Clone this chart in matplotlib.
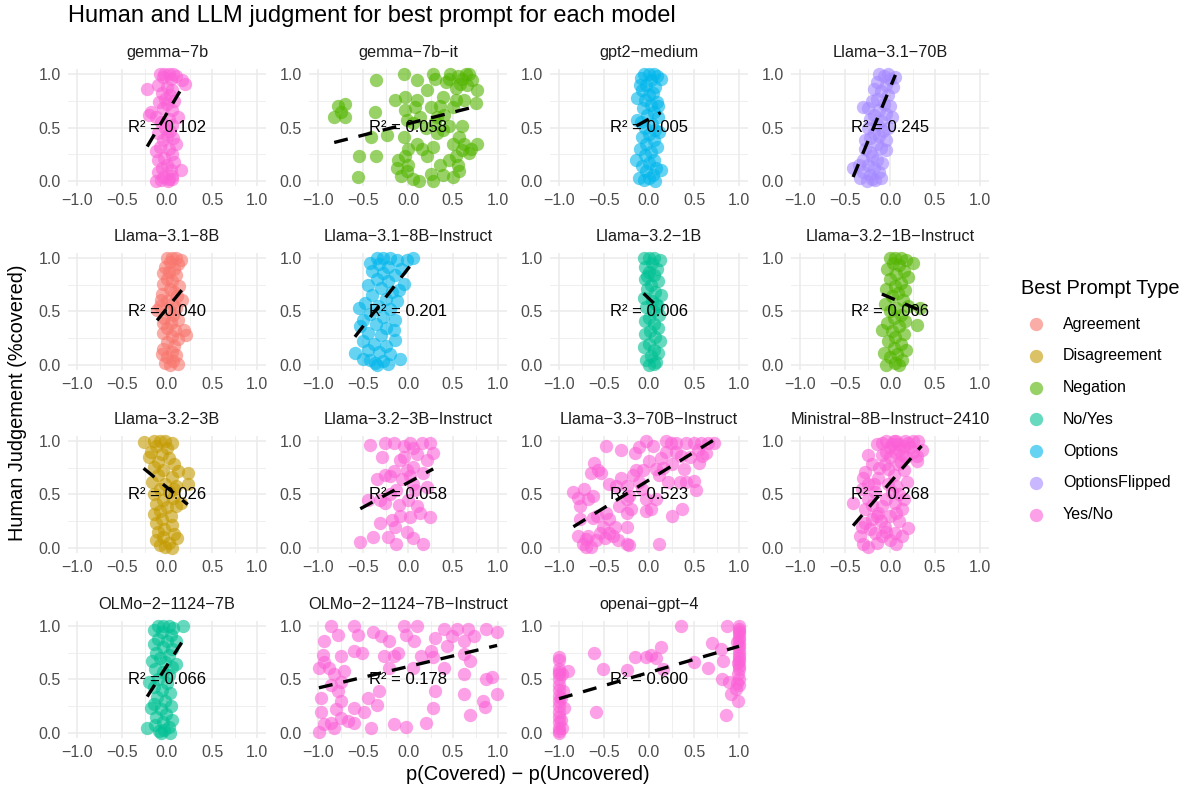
import matplotlib
matplotlib.use("Agg")
import matplotlib.pyplot as plt
from matplotlib.transforms import Bbox, TransformedBbox
from matplotlib.ticker import MultipleLocator

plt.rcParams['font.family'] = ['Liberation Sans', 'DejaVu Sans']

# prompt types and ggplot hue colours
prompt_types = ["Agreement", "Disagreement", "Negation", "No/Yes", "Options", "OptionsFlipped", "Yes/No"]
type_colors = ["#F8766D", "#C49A00", "#53B400", "#00C094", "#00B6EB", "#A58AFF", "#FB61D7"]

# (p(Covered) - p(Uncovered), human judgement) per model
gemma_7b = [(-0.08,1.0),(-0.03,1.0),(0.02,1.0),(0.07,1.0),(0.1,0.98),(-0.05,0.97),(0.04,0.95),(0.17,0.94),
            (0.2,0.91),(-0.22,0.86),(-0.1,0.9),(0.0,0.88),(0.06,0.85),(-0.06,0.82),(0.03,0.8),(-0.02,0.77),
            (0.08,0.75),(-0.09,0.74),(0.0,0.72),(-0.04,0.68),(0.05,0.66),(-0.2,0.62),(-0.18,0.65),(-0.12,0.6),
            (0.12,0.6),(0.02,0.58),(-0.07,0.55),(0.06,0.52),(-0.02,0.5),(0.03,0.47),(-0.1,0.45),(0.0,0.42),
            (0.07,0.4),(-0.05,0.38),(0.1,0.35),(-0.08,0.32),(0.02,0.3),(-0.12,0.28),(0.05,0.25),(-0.03,0.22),
            (-0.1,0.2),(0.08,0.18),(0.0,0.15),(-0.06,0.12),(0.04,0.1),(0.15,0.1),(-0.1,0.08),(0.06,0.05),
            (-0.04,0.04),(0.02,0.02),(-0.12,0.0),(-0.07,0.01),(0.01,0.0),(0.05,0.02)]
gemma_7b_it = [(-0.82,0.6),(-0.78,0.7),(-0.7,0.72),(-0.7,0.6),(-0.75,0.65),(-0.36,0.94),(-0.37,0.65),
               (-0.41,0.41),(-0.23,0.43),(-0.54,0.23),(-0.36,0.23),(-0.56,0.04),(-0.05,1.0),(-0.14,0.76),
               (-0.03,0.79),(-0.03,0.66),(-0.01,0.57),(-0.05,0.41),(-0.11,0.2),(-0.03,0.23),(-0.12,0.12),
               (-0.01,0.09),(0.06,0.02),(0.1,0.94),(0.1,0.76),(0.13,0.6),(0.1,0.35),(0.21,0.85),(0.28,1.0),
               (0.25,0.69),(0.32,0.6),(0.32,0.45),(0.28,0.32),(0.21,0.23),(0.25,0.07),(0.39,0.06),(0.28,0.0),
               (0.39,0.79),(0.42,0.93),(0.47,1.0),(0.53,0.87),(0.5,0.69),(0.53,0.76),(0.5,0.35),(0.57,0.41),
               (0.53,0.23),(0.6,0.29),(0.5,0.04),(0.57,0.09),(0.64,1.0),(0.71,0.94),(0.62,0.76),(0.75,0.73),
               (0.77,0.85),(0.77,0.35),(0.68,0.26),(0.6,0.51),(0.46,0.51),(0.39,0.48),(0.12,0.0),(0.06,0.54),
               (0.08,0.69),(0.55,0.98),(0.68,1.0),(0.58,0.91),(0.3,0.95),(0.45,0.95),(0.6,0.95),(0.65,0.9),
               (0.35,0.7),(0.4,0.62),(0.2,0.5),(0.15,0.3),(0.0,0.3),(0.45,0.2),(0.35,0.15),(0.55,0.15),
               (0.7,0.3),(0.62,0.35),(0.0,0.15),(-0.08,0.05),(0.3,0.55)]
gpt2_medium = [(-0.13,0.57),(-0.14,0.2),(0.13,0.1),(0.11,0.46),(-0.13,0.78),(0.13,0.95),(-0.11,0.03),
               (-0.06,1.0),(0.0,1.0),(0.05,1.0),(0.09,0.98),(-0.09,0.96),(0.02,0.94),(-0.03,0.9),(0.07,0.88),
               (-0.08,0.85),(0.04,0.82),(0.0,0.8),(-0.05,0.76),(0.09,0.74),(0.02,0.71),(-0.07,0.68),(0.06,0.65),
               (-0.02,0.62),(0.1,0.6),(-0.09,0.55),(0.03,0.53),(-0.04,0.5),(0.07,0.48),(0.0,0.44),(-0.08,0.41),
               (0.05,0.38),(-0.03,0.35),(0.09,0.32),(-0.1,0.3),(0.02,0.27),(-0.05,0.24),(0.06,0.2),(0.0,0.17),
               (-0.08,0.14),(0.08,0.12),(-0.03,0.09),(0.04,0.06),(0.0,0.03),(0.07,0.0),(-0.06,0.01),(0.1,0.7),
               (-0.1,0.9)]
llama31_70b = [(-0.41,0.12),(-0.28,0.38),(-0.2,0.23),(-0.09,0.17),(-0.02,1.0),(0.06,0.97),(-0.3,0.69),
               (0.02,0.6),(-0.04,0.29),(-0.26,0.0),(-0.17,0.01),(-0.12,1.0),(-0.07,0.98),(0.0,0.95),(-0.15,0.93),
               (-0.05,0.9),(0.03,0.88),(-0.18,0.86),(-0.1,0.84),(-0.02,0.8),(-0.14,0.77),(-0.2,0.75),(-0.07,0.72),
               (0.0,0.7),(-0.25,0.68),(-0.12,0.66),(-0.18,0.62),(-0.05,0.63),(-0.22,0.58),(-0.1,0.56),(-0.15,0.53),
               (-0.02,0.5),(-0.25,0.5),(-0.08,0.47),(-0.18,0.45),(-0.12,0.42),(-0.22,0.4),(-0.05,0.38),(-0.15,0.35),
               (-0.28,0.3),(-0.1,0.31),(-0.22,0.27),(-0.3,0.2),(-0.14,0.2),(-0.35,0.15),(-0.25,0.15),(-0.18,0.12),
               (-0.3,0.08),(-0.22,0.06),(-0.12,0.08),(-0.33,0.03),(-0.2,0.02),(-0.1,0.03)]
llama31_8b = [(-0.07,0.61),(-0.05,0.86),(0.19,0.33),(0.21,0.28),(-0.02,0.02),(0.15,0.98),(0.17,0.61),
              (-0.11,0.51),(-0.04,0.39),(0.0,1.0),(0.05,1.0),(0.1,1.0),(0.03,0.96),(0.12,0.94),(-0.02,0.92),
              (0.08,0.9),(0.02,0.87),(0.1,0.84),(0.0,0.8),(0.06,0.78),(-0.04,0.76),(0.13,0.74),(0.03,0.71),
              (0.08,0.68),(-0.06,0.66),(0.11,0.64),(0.0,0.6),(0.05,0.57),(-0.08,0.55),(0.1,0.53),(0.02,0.5),
              (0.07,0.47),(-0.03,0.44),(0.12,0.42),(0.04,0.39),(0.0,0.35),(0.09,0.33),(-0.05,0.3),(0.05,0.27),
              (0.12,0.24),(0.0,0.21),(0.08,0.18),(-0.04,0.15),(0.05,0.12),(0.1,0.09),(0.0,0.07),(0.07,0.04),
              (0.03,0.0),(0.12,0.01),(-0.06,0.1)]
llama31_8b_inst = [(-0.59,0.11),(-0.09,0.06),(0.06,1.0),(-0.55,0.53),(-0.53,0.36),(-0.42,0.95),(-0.37,0.02),
                   (-0.16,0.33),(-0.05,0.76),(-0.01,0.98),(-0.14,0.23),(-0.35,1.0),(-0.28,1.0),(-0.2,1.0),
                   (-0.12,0.98),(-0.32,0.94),(-0.22,0.92),(-0.08,0.9),(-0.4,0.88),(-0.28,0.86),(-0.15,0.84),
                   (-0.35,0.8),(-0.22,0.78),(-0.1,0.7),(-0.45,0.75),(-0.3,0.72),(-0.18,0.68),(-0.4,0.65),
                   (-0.25,0.62),(-0.12,0.6),(-0.48,0.58),(-0.33,0.55),(-0.2,0.52),(-0.42,0.48),(-0.28,0.45),
                   (-0.15,0.42),(-0.5,0.42),(-0.36,0.38),(-0.24,0.35),(-0.45,0.3),(-0.3,0.28),(-0.5,0.22),
                   (-0.38,0.2),(-0.25,0.18),(-0.45,0.14),(-0.32,0.12),(-0.2,0.1),(-0.5,0.06),(-0.42,0.05),
                   (-0.28,0.04),(-0.35,0.0),(-0.22,0.01)]
llama32_1b = [(-0.06,1.0),(0.0,1.0),(0.06,1.0),(0.12,0.98),(0.03,0.95),(-0.04,0.92),(0.09,0.9),(0.0,0.87),
              (0.05,0.84),(-0.05,0.8),(0.1,0.78),(0.02,0.75),(-0.02,0.71),(0.07,0.68),(0.13,0.65),(-0.06,0.63),
              (0.03,0.6),(0.08,0.57),(-0.03,0.54),(0.04,0.5),(0.11,0.47),(0.0,0.44),(-0.05,0.41),(0.06,0.38),
              (0.1,0.35),(0.01,0.32),(-0.04,0.29),(0.07,0.26),(0.12,0.22),(0.0,0.2),(-0.06,0.17),(0.05,0.14),
              (0.1,0.11),(0.02,0.08),(-0.03,0.05),(0.08,0.03),(0.0,0.0),(0.05,0.01),(-0.02,0.83),(0.1,0.55)]
llama32_1b_inst = [(-0.09,0.33),(0.3,0.37),(0.26,0.95),(-0.07,0.11),(0.33,0.53),(0.0,1.0),(0.06,1.0),
                   (0.12,1.0),(0.18,0.98),(0.03,0.95),(0.1,0.93),(-0.03,0.9),(0.15,0.88),(0.07,0.85),(0.2,0.82),
                   (0.0,0.8),(0.12,0.77),(0.05,0.74),(-0.05,0.71),(0.17,0.7),(0.09,0.67),(0.02,0.64),(0.14,0.61),
                   (-0.06,0.57),(0.2,0.55),(0.07,0.53),(0.0,0.5),(0.12,0.47),(0.04,0.44),(0.17,0.41),(-0.03,0.39),
                   (0.1,0.36),(0.02,0.32),(0.15,0.29),(0.06,0.26),(-0.02,0.22),(0.12,0.2),(0.04,0.16),(0.18,0.14),
                   (0.08,0.1),(0.0,0.07),(0.13,0.05),(0.05,0.02),(0.1,0.0),(-0.04,0.0)]
llama32_3b = [(0.23,0.7),(0.23,0.6),(0.15,0.42),(-0.26,0.99),(-0.2,0.85),(0.1,0.39),(0.11,0.09),(-0.15,1.0),
              (-0.08,1.0),(-0.02,1.0),(0.05,0.98),(-0.12,0.95),(0.0,0.93),(-0.18,0.9),(-0.06,0.88),(0.02,0.84),
              (-0.1,0.8),(0.08,0.78),(-0.15,0.76),(-0.04,0.73),(0.12,0.72),(-0.1,0.68),(0.05,0.66),(-0.17,0.62),
              (-0.02,0.6),(0.1,0.58),(-0.08,0.55),(0.02,0.52),(-0.14,0.5),(0.07,0.47),(-0.05,0.45),(-0.12,0.41),
              (0.0,0.38),(-0.08,0.35),(-0.15,0.32),(0.04,0.3),(-0.06,0.27),(-0.12,0.23),(0.05,0.21),(-0.03,0.18),
              (-0.1,0.15),(0.08,0.13),(-0.05,0.1),(-0.12,0.07),(0.02,0.05),(-0.08,0.03),(0.05,0.0),(-0.02,0.01),
              (0.08,0.55)]
llama32_3b_inst = [(-0.53,0.06),(-0.39,0.1),(-0.44,0.45),(-0.42,0.96),(-0.29,0.85),(-0.31,0.23),(-0.2,0.67),
                   (-0.26,0.98),(-0.16,0.98),(-0.05,0.85),(0.02,0.98),(0.06,0.76),(0.15,0.98),(0.24,0.98),
                   (0.28,0.89),(0.21,0.57),(0.24,0.29),(0.13,0.33),(0.17,0.04),(0.06,0.09),(-0.01,0.15),
                   (-0.09,0.3),(-0.13,0.54),(-0.31,0.45),(-0.35,0.64),(-0.26,0.68),(-0.16,0.72),(-0.07,0.64),
                   (0.02,0.67),(0.08,0.54),(0.0,0.45),(-0.13,0.04),(-0.22,0.1),(-0.14,0.2),(0.02,0.29),(0.1,0.39),
                   (-0.09,0.82),(-0.01,0.73),(0.17,0.7),(0.06,0.93),(0.21,0.82),(-0.26,0.42),(-0.18,0.26),
                   (-0.05,0.95),(0.1,0.88),(-0.2,0.5),(0.05,0.6),(-0.1,0.4)]
llama33_70b_inst = [(-0.84,0.52),(-0.79,0.47),(-0.77,0.39),(-0.72,0.55),(-0.68,0.46),(-0.62,0.49),(-0.61,0.79),
                    (-0.57,0.73),(-0.53,0.7),(-0.64,0.7),(-0.79,0.11),(-0.73,0.04),(-0.68,0.11),(-0.64,0.01),
                    (-0.59,0.07),(-0.55,0.14),(-0.77,0.27),(-0.62,0.28),(-0.51,0.2),(-0.48,0.33),(-0.44,0.27),
                    (-0.38,0.2),(-0.4,0.11),(-0.49,0.09),(-0.35,0.07),(-0.25,0.2),(-0.25,0.04),(-0.22,0.03),
                    (-0.48,0.95),(-0.31,0.92),(-0.37,0.58),(-0.31,0.65),(-0.25,0.58),(-0.22,0.49),(-0.25,0.46),
                    (-0.33,0.39),(-0.24,0.33),(-0.18,0.68),(-0.14,0.73),(-0.11,0.62),(-0.07,0.73),(-0.16,0.89),
                    (-0.03,0.46),(-0.03,0.35),(0.02,0.36),(-0.11,0.94),(-0.03,1.0),(0.04,0.95),(0.0,0.81),
                    (0.08,0.74),(0.11,0.68),(0.11,0.04),(0.13,0.84),(0.19,0.9),(0.19,1.0),(0.21,0.62),(0.26,0.3),
                    (0.26,0.78),(0.24,0.98),(0.3,0.98),(0.35,0.86),(0.39,0.74),(0.34,0.62),(0.41,0.62),(0.41,0.98),
                    (0.5,0.98),(0.54,0.92),(0.56,0.79),(0.5,0.63),(0.52,0.54),(0.58,0.98),(0.65,0.98),(0.63,0.89),
                    (0.72,0.98),(0.59,0.86),(0.37,0.36),(0.08,0.46),(-0.44,0.14),(-0.7,0.01),(-0.7,0.08),
                    (-0.58,0.3),(-0.45,0.6),(-0.2,0.36),(0.3,0.9),(0.45,0.85),(-0.08,0.55),(0.15,0.75)]
ministral_8b = [(-0.41,0.42),(-0.31,0.55),(-0.3,0.65),(-0.28,0.71),(-0.24,0.87),(-0.2,0.78),(-0.15,0.97),
                (-0.13,0.65),(-0.09,0.87),(-0.06,0.78),(-0.04,1.0),(0.0,0.94),(0.04,1.0),(0.09,0.97),(0.13,0.87),
                (0.17,1.0),(0.22,0.94),(0.26,1.0),(0.35,0.92),(0.3,0.81),(0.19,0.62),(0.15,0.46),(0.2,0.19),
                (0.13,0.11),(0.07,0.04),(0.0,0.07),(-0.09,0.11),(-0.17,0.14),(-0.24,0.01),(-0.3,0.04),(-0.33,0.11),
                (-0.31,0.2),(-0.28,0.23),(-0.2,0.27),(-0.13,0.33),(-0.09,0.39),(-0.04,0.46),(0.02,0.52),(0.07,0.58),
                (0.04,0.68),(-0.02,0.74),(0.09,0.78),(0.15,0.73),(-0.17,0.52),(-0.24,0.46),(-0.28,0.36),(0.0,0.3),
                (0.07,0.33),(0.13,0.36),(-0.06,0.2),(0.06,0.14),(-0.09,0.98),(0.07,1.0),(0.2,0.98),(0.3,0.86),
                (0.31,1.0),(-0.05,0.9),(0.0,0.85),(0.05,0.9),(0.1,0.92),(0.15,0.95),(0.02,0.97),(0.12,0.8),
                (-0.12,0.75),(-0.18,0.6),(-0.25,0.6),(-0.2,0.4),(-0.15,0.3),(-0.1,0.25),(-0.22,0.18),
                (-0.15,0.05),(-0.05,0.15),(0.1,0.25),(0.05,0.42),(0.1,0.5),(-0.02,0.6),(0.18,0.85),(0.25,0.9)]
olmo2_7b = [(0.18,1.0),(-0.22,0.05),(-0.09,0.02),(0.1,0.86),(0.1,0.64),(-0.17,0.67),(-0.2,0.48),(-0.18,0.23),
            (-0.1,1.0),(-0.04,1.0),(0.02,1.0),(0.07,0.98),(-0.14,0.96),(-0.06,0.94),(0.04,0.92),(-0.1,0.88),
            (0.0,0.86),(-0.15,0.83),(-0.05,0.8),(0.06,0.78),(-0.12,0.75),(0.02,0.73),(-0.08,0.7),(-0.02,0.66),
            (0.05,0.62),(-0.13,0.6),(-0.05,0.57),(0.02,0.54),(-0.1,0.5),(0.0,0.47),(-0.15,0.43),(-0.06,0.4),
            (0.03,0.37),(-0.11,0.34),(-0.02,0.3),(-0.14,0.27),(0.04,0.25),(-0.07,0.22),(-0.01,0.18),(-0.12,0.15),
            (0.05,0.12),(-0.05,0.1),(0.02,0.06),(-0.13,0.07),(-0.03,0.03),(0.03,0.0),(-0.07,0.0)]
olmo2_7b_inst = [(-0.99,0.01),(-0.93,0.08),(-0.86,0.09),(-0.82,0.05),(-0.75,0.14),(-0.67,0.11),(-0.6,0.09),
                 (-0.97,0.2),(-0.8,0.22),(-0.6,0.23),(-0.49,0.2),(-0.41,0.05),(-0.34,0.26),(-0.45,0.33),
                 (-0.97,0.33),(-0.75,0.3),(-0.99,0.61),(-0.93,0.66),(-0.95,0.73),(-0.88,0.61),(-0.82,0.55),
                 (-0.75,0.72),(-0.71,0.58),(-0.75,0.48),(-0.86,0.45),(-0.78,0.39),(-0.93,0.86),(-0.86,1.0),
                 (-0.78,0.92),(-0.6,1.0),(-0.56,0.92),(-0.6,0.77),(-0.51,0.75),(-0.39,0.94),(-0.3,0.91),
                 (-0.21,0.86),(-0.27,0.72),(-0.16,0.72),(-0.11,0.75),(-0.21,0.61),(-0.05,1.0),(0.1,1.0),
                 (-0.02,0.92),(0.07,0.86),(0.05,0.61),(0.14,0.72),(0.25,0.77),(0.3,0.89),(0.4,0.97),(0.43,0.81),
                 (0.49,0.91),(0.54,0.97),(0.62,0.86),(0.67,0.97),(0.73,0.91),(0.87,0.97),(0.99,0.94),(0.62,0.74),
                 (0.69,0.67),(0.62,0.55),(0.87,0.5),(0.93,0.52),(0.99,0.36),(0.83,0.3),(0.85,0.24),(0.69,0.17),
                 (0.62,0.36),(0.3,0.39),(0.28,0.23),(0.2,0.09),(-0.02,0.06),(-0.16,0.08),(-0.32,0.39),(0.4,0.61),
                 (0.28,0.71)]
openai_gpt4 = [(-1.0,0.71),(-1.0,0.68),(-1.0,0.6),(-1.0,0.57),(-1.0,0.55),(-1.0,0.5),(-1.0,0.45),(-1.0,0.4),
               (-1.0,0.35),(-1.0,0.3),(-1.0,0.25),(-1.0,0.2),(-1.0,0.15),(-1.0,0.1),(-1.0,0.05),(-1.0,0.02),
               (-1.0,0.0),(-0.96,0.39),(-0.9,0.58),(-0.94,0.23),(-0.97,0.05),(-0.97,0.55),(-0.98,0.33),(-0.98,0.12),
               (-0.61,0.75),(-0.51,0.6),(-0.59,0.2),(-0.24,0.59),(-0.16,0.71),(-0.03,0.71),(0.02,0.73),(0.08,0.7),
               (0.13,0.8),(0.15,0.6),(0.35,1.0),(0.5,0.66),(0.66,0.61),(0.7,0.84),(0.8,0.78),(0.82,0.67),
               (0.81,0.5),(0.87,1.0),(0.85,0.17),(0.91,0.36),(0.89,0.48),(1.0,1.0),(1.0,0.97),(1.0,0.93),
               (1.0,0.9),(1.0,0.87),(1.0,0.83),(1.0,0.8),(1.0,0.77),(1.0,0.73),(1.0,0.7),(1.0,0.67),(1.0,0.63),
               (1.0,0.6),(0.99,0.55),(1.0,0.5),(0.98,0.47),(1.0,0.45),(0.97,0.41),(0.99,0.3),(1.0,0.95),
               (0.98,0.85),(0.99,0.65)]

models = ["gemma-7b", "gemma-7b-it", "gpt2-medium", "Llama-3.1-70B",
          "Llama-3.1-8B", "Llama-3.1-8B-Instruct", "Llama-3.2-1B", "Llama-3.2-1B-Instruct",
          "Llama-3.2-3B", "Llama-3.2-3B-Instruct", "Llama-3.3-70B-Instruct", "Ministral-8B-Instruct-2410",
          "OLMo-2-1124-7B", "OLMo-2-1124-7B-Instruct", "openai-gpt-4"]
model_points = [gemma_7b, gemma_7b_it, gpt2_medium, llama31_70b,
                llama31_8b, llama31_8b_inst, llama32_1b, llama32_1b_inst,
                llama32_3b, llama32_3b_inst, llama33_70b_inst, ministral_8b,
                olmo2_7b, olmo2_7b_inst, openai_gpt4]
best_prompt = ["Yes/No", "Negation", "Options", "OptionsFlipped",
               "Agreement", "Options", "No/Yes", "Negation",
               "Disagreement", "Yes/No", "Yes/No", "Yes/No",
               "No/Yes", "Yes/No", "Yes/No"]
r2_values = [0.102, 0.058, 0.005, 0.245, 0.040, 0.201, 0.006, 0.006,
             0.026, 0.058, 0.523, 0.268, 0.066, 0.178, 0.600]
# linear fit
fit_slope = [1.42, 0.214, 0.46, 2.03, 1.03, 1.08, -0.8, -0.36, -0.69, 0.46, 0.52, 0.98, 1.32, 0.2, 0.245]
fit_intercept = [0.635, 0.536, 0.58, 0.87, 0.53, 0.9, 0.62, 0.63, 0.565, 0.61, 0.635, 0.61, 0.63, 0.62, 0.565]

W, H = 1188, 789
fig = plt.figure(figsize=(W / 100, H / 100), dpi=100)

col_left = [68, 309, 550, 791]
row_top = [68.7, 252.6, 435.6, 620.6]
pw, ph = 198, 117.7
grid_col = "#EBEBEB"

for i, name in enumerate(models):
    r, c = divmod(i, 4)
    ax = fig.add_axes([col_left[c] / W, 1 - (row_top[r] + ph) / H, pw / W, ph / H])
    ax.set_xlim(-1.1, 1.1)
    ax.set_ylim(-0.05, 1.05)
    for s in ax.spines.values():
        s.set_visible(False)
    ax.xaxis.set_major_locator(MultipleLocator(0.5))
    ax.xaxis.set_minor_locator(MultipleLocator(0.25))
    ax.yaxis.set_major_locator(MultipleLocator(0.5))
    ax.yaxis.set_minor_locator(MultipleLocator(0.25))
    ax.grid(True, which='major', color=grid_col, lw=1.1)
    ax.grid(True, which='minor', color=grid_col, lw=0.55)
    ax.set_axisbelow(True)
    ax.tick_params(which='both', length=0, labelsize=11.5, labelcolor='#4D4D4D', pad=5)
    ax.set_xticks([-1.0, -0.5, 0.0, 0.5, 1.0])
    ax.set_xticklabels(["\u22121.0", "\u22120.5", "0.0", "0.5", "1.0"])
    ax.set_yticks([0.0, 0.5, 1.0])
    ax.set_yticklabels(["0.0", "0.5", "1.0"])

    pts = model_points[i]
    xs = [p[0] for p in pts]
    ys = [p[1] for p in pts]
    color = type_colors[prompt_types.index(best_prompt[i])]
    ax.scatter(xs, ys, s=92, color=color, alpha=0.6, linewidths=0, clip_on=False, zorder=2)

    x0, x1 = min(xs), max(xs)
    ax.plot([x0, x1], [fit_intercept[i] + fit_slope[i] * x0, fit_intercept[i] + fit_slope[i] * x1],
            color='black', lw=2.4, dashes=(4.2, 3.3), zorder=3)
    ax.text(0, 0.5, f"R\u00b2 = {r2_values[i]:.3f}", ha='center', va='center', fontsize=12,
            color='black', zorder=4)

    t = ax.text(0.5, 1 + 16 / ph, name.replace("-", "\u2212"), transform=ax.transAxes,
                ha='center', va='center', fontsize=11.7, color='#1A1A1A')
    t.set_clip_box(TransformedBbox(Bbox([[-0.03, 1], [1.03, 1.4]]), ax.transAxes))
    t.set_clip_on(True)

fig.text(68 / W, 1 - 16 / H, "Human and LLM judgment for best prompt for each model",
         fontsize=17, ha='left', va='center', color='black')
fig.text(528 / W, 1 - 775 / H, "p(Covered) \u2212 p(Uncovered)", fontsize=14.4,
         ha='center', va='center', color='black')
fig.text(18 / W, 1 - 403 / H, "Human Judgement (%covered)", fontsize=14.4, rotation=90,
         ha='center', va='center', color='black')

# legend
lax = fig.add_axes([1020 / W, 1 - 540 / H, 168 / W, 270 / H])
lax.set_xlim(0, 168)
lax.set_ylim(270, 0)
lax.axis('off')
lax.text(1, 18, "Best Prompt Type", fontsize=14.4, ha='left', va='center', color='black')
for k, (lab, col) in enumerate(zip(prompt_types, type_colors)):
    yk = 54 + 31.8 * k
    lax.scatter([16], [yk], s=92, color=col, alpha=0.6, linewidths=0)
    lax.text(43, yk, lab, fontsize=11.5, ha='left', va='center', color='black')

fig.savefig("out.png", dpi=100)
